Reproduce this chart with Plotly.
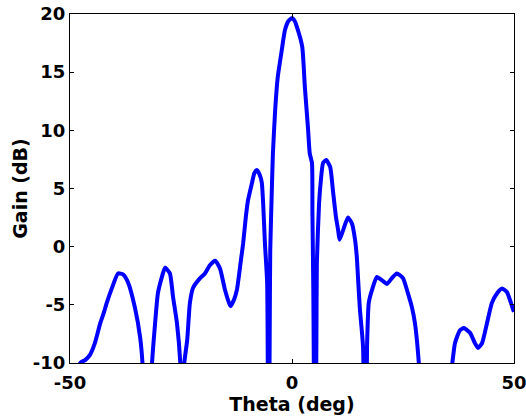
import plotly.graph_objects as go

theta = [-50, -47.7, -46.6, -45.5, -44.4, -43.2, -42.4, -41.7, -40.5, -39.2, -38.0,
         -36.9, -35.4, -34.2, -33.6, -32.6, -31.6, -30.9, -30.2, -29.3, -28.6,
         -27.5, -26.8, -25.9, -25.1, -24.85, -24.4, -23.6, -23.0, -22.3, -20.7,
         -19.6, -18.5, -17.3, -16.2, -15.1, -14.0, -13.8, -13.0, -12.4, -11.5,
         -11.0, -10.4, -9.9, -9.0, -8.5, -7.9, -7.3, -6.8, -6.5, -6.1, -5.6,
         -5.3, -5.0, -4.9, -4.5, -4.3, -3.8, -3.2, -2.3, -1.6, -0.8, 0.0, 0.6,
         1.1, 2.3, 2.9, 3.6, 4.0, 4.5, 4.6, 4.8, 5.2, 5.5, 5.6, 6.1, 6.5, 7.0,
         7.7, 8.6, 9.2, 9.9, 10.4, 10.7, 11.5, 12.6, 13.5, 14.2, 14.6, 14.9,
         15.3, 16.0, 16.5, 16.9, 17.3, 18.2, 19.1, 20.3, 21.4, 22.5, 23.6, 25.0,
         26.1, 27.0, 27.7, 28.2, 28.8, 32.0, 35.8, 36.7, 37.8, 38.7, 40.1, 41.2,
         41.9, 42.8, 43.9, 45.0, 46.2, 47.3, 48.4, 49.8, 50.0]

gain = [-20, -10.0, -9.75, -9.3, -8.3, -6.6, -5.7, -4.8, -3.5, -2.3, -2.4,
        -3.1, -5.2, -7.8, -10.5, -25, -10.5, -6.9, -4.0, -2.6, -1.8,
        -2.3, -4.3, -6.6, -10.5, -25, -10.5, -8.0, -4.85, -3.55, -2.7,
        -2.3, -1.6, -1.2, -1.9, -3.7, -5.0, -5.1, -4.5, -3.7, -1.15,
        0.3, 2.55, 4.0, 5.5, 6.3, 6.6, 6.2, 5.5, 3.75, 0.3, -3.1,
        -25, -6.0, -0.3, 5.5, 8.0, 11.7, 14.6, 16.9, 18.6, 19.4, 19.65, 19.4,
        18.9, 17.2, 13.7, 10.2, 8.0, 7.2, 2.9, -3.7, -25, -8.0, -1.4, 3.75, 5.7, 7.2,
        7.45, 6.85, 4.9, 2.55, 1.4, 0.6, 1.4, 2.5, 2.0, 0.6, -0.9, -2.9,
        -5.4, -8.6, -25, -8.6, -4.8, -3.5, -2.6, -2.9, -3.2, -2.7, -2.3, -2.7,
        -4.0, -5.2, -6.6, -8.3, -11, -20, -11, -8.3, -7.2, -7.0, -7.4, -8.3,
        -8.7, -8.3, -6.6, -4.85, -4.0, -3.6, -3.9, -5.4, -5.6]

x_ticks = [-50, 0, 50]
y_ticks = [-10, -5, 0, 5, 10, 15, 20]

font_family = "DejaVu Sans"

fig = go.Figure()
fig.add_trace(go.Scatter(
    x=theta, y=gain, mode="lines",
    line=dict(color="#0000FF", width=4, shape="spline", smoothing=0.5),
    showlegend=False, hoverinfo="skip",
))

axis_common = dict(
    showgrid=False, zeroline=False,
    showline=True, linecolor="black", linewidth=1,
    mirror="ticks", ticks="inside", ticklen=4, tickcolor="black",
    ticklabeloverflow="allow",
    tickfont=dict(family=font_family, size=18, color="black", weight="bold"),
)

fig.update_xaxes(
    range=[-50, 50], tickvals=x_ticks, ticktext=[str(v) for v in x_ticks],
    ticklabelstandoff=3,
    title=dict(text="Theta (deg)", standoff=0,
               font=dict(family=font_family, size=19, color="black", weight="bold")),
    **axis_common,
)
fig.update_yaxes(
    range=[-10, 20], tickvals=y_ticks, ticktext=[str(v) for v in y_ticks],
    title=dict(text="Gain (dB)", standoff=0,
               font=dict(family=font_family, size=19, color="black", weight="bold")),
    **axis_common,
)

fig.update_layout(
    width=526, height=420,
    margin=dict(l=70, r=12, t=14, b=57, autoexpand=False),
    paper_bgcolor="white", plot_bgcolor="white",
)

# remove the page's default 8px body margin so the figure fills the window
fig.write_html("out.html", config={"displayModeBar": False},
               post_script="document.body.style.margin='0px';")
